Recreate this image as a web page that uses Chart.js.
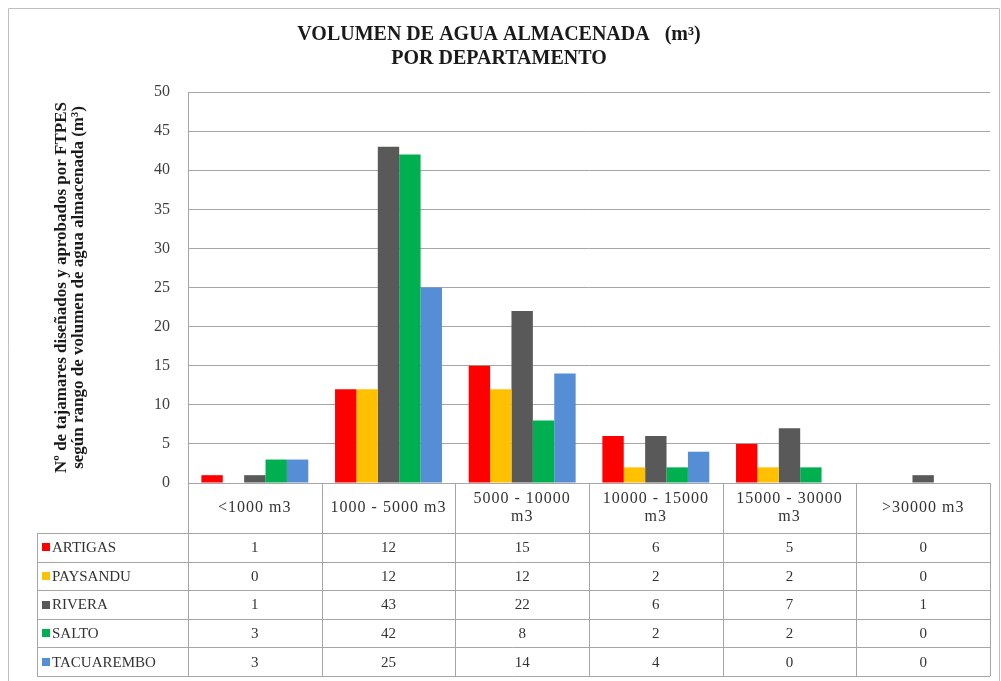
<!DOCTYPE html>
<html>
<head>
<meta charset="utf-8">
<script src="https://cdn.jsdelivr.net/npm/chart.js@4/dist/chart.umd.min.js"></script>
<style>
  html, body { margin: 0; padding: 0; background: #fff; }
  canvas { display: block; }
</style>
</head>
<body>
<canvas id="aguaChart" width="1001" height="681"></canvas>
<script>
const categories = [
    ['<1000 m3'],
    ['1000 - 5000 m3'],
    ['5000 - 10000', 'm3'],
    ['10000 - 15000', 'm3'],
    ['15000 - 30000', 'm3'],
    ['>30000 m3']
];
const departamentos = ['ARTIGAS', 'PAYSANDU', 'RIVERA', 'SALTO', 'TACUAREMBO'];
const artigas    = [1, 12, 15, 6, 5, 0];
const paysandu   = [0, 12, 12, 2, 2, 0];
const rivera     = [1, 43, 22, 6, 7, 1];
const salto      = [3, 42, 8, 2, 2, 0];
const tacuarembo = [3, 25, 14, 4, 0, 0];
const colores = ['#FF0000', '#FFC000', '#595959', '#00B050', '#558ED5'];

const serif = '"Liberation Serif", "Times New Roman", serif';
const series = [artigas, paysandu, rivera, salto, tacuarembo];

// data table under the plot, columns taken from the x scale
const tablePlugin = {
    id: 'dataTable',
    afterDraw(chart) {
        const ctx = chart.ctx;
        const area = chart.chartArea;
        const xs = chart.scales.x;
        const colW = area.width / categories.length;
        const headTop = area.bottom;
        const headBottom = headTop + 50;
        const rowH = 28.6;
        const tableLeft = 37;
        const tableBottom = headBottom + rowH * departamentos.length;

        ctx.save();
        ctx.strokeStyle = '#A6A6A6';
        ctx.lineWidth = 1;
        ctx.beginPath();
        // header top
        ctx.moveTo(area.left, headTop + 0.5);
        ctx.lineTo(area.right, headTop + 0.5);
        // row lines
        for (let r = 0; r <= departamentos.length; r++) {
            const y = Math.round(headBottom + r * rowH) + 0.5;
            ctx.moveTo(tableLeft, y);
            ctx.lineTo(area.right, y);
        }
        // column lines
        for (let c = 0; c <= categories.length; c++) {
            const x = Math.round(area.left + c * colW) + 0.5;
            ctx.moveTo(x, headTop);
            ctx.lineTo(x, tableBottom);
        }
        ctx.moveTo(tableLeft + 0.5, headBottom);
        ctx.lineTo(tableLeft + 0.5, tableBottom);
        ctx.stroke();

        ctx.fillStyle = '#333';
        ctx.font = '16px ' + serif;
        ctx.textAlign = 'center';
        ctx.textBaseline = 'middle';
        if ('letterSpacing' in ctx) ctx.letterSpacing = '1px';
        categories.forEach((lab, i) => {
            const cx = xs.getPixelForValue(i);
            const mid = (headTop + headBottom) / 2;
            const lh = 18;
            lab.forEach((t, k) => {
                ctx.fillText(t, cx, mid + (k - (lab.length - 1) / 2) * lh);
            });
        });
        if ('letterSpacing' in ctx) ctx.letterSpacing = '0px';

        departamentos.forEach((d, r) => {
            const cy = headBottom + r * rowH + rowH / 2;
            ctx.fillStyle = colores[r];
            ctx.fillRect(tableLeft + 5, Math.round(cy - 4), 8, 8);
            ctx.fillStyle = '#333';
            ctx.textAlign = 'left';
            ctx.font = '15px ' + serif;
            ctx.fillText(d, tableLeft + 15, cy + 1);
            ctx.textAlign = 'center';
            ctx.font = '15px ' + serif;
            series[r].forEach((v, i) => {
                ctx.fillText(String(v), xs.getPixelForValue(i), cy + 1);
            });
        });

        // outer frame
        ctx.strokeStyle = '#BFBFBF';
        ctx.beginPath();
        ctx.moveTo(8.5, 681);
        ctx.lineTo(8.5, 8.5);
        ctx.lineTo(999.5, 8.5);
        ctx.lineTo(999.5, 681);
        ctx.stroke();
        ctx.restore();
    }
};

new Chart(document.getElementById('aguaChart'), {
    type: 'bar',
    data: {
        labels: categories,
        datasets: departamentos.map((d, i) => ({
            label: d,
            data: series[i],
            backgroundColor: colores[i],
            categoryPercentage: 0.8,
            barPercentage: 1.0
        }))
    },
    options: {
        responsive: false,
        animation: false,
        devicePixelRatio: 1,
        layout: { padding: { left: 8, right: 11, top: 0, bottom: 198 } },
        plugins: {
            legend: { display: false },
            tooltip: { enabled: false },
            title: {
                display: true,
                text: ['VOLUMEN DE AGUA ALMACENADA   (m³)', 'POR DEPARTAMENTO'],
                color: '#1a1a1a',
                font: { family: serif, size: 20, weight: 'bold', lineHeight: 1.2 },
                padding: { top: 23, bottom: 21 }
            }
        },
        scales: {
            x: {
                grid: { display: false },
                border: { display: false },
                ticks: { display: false },
                afterFit(scale) { scale.height = 0; }
            },
            y: {
                min: 0,
                max: 50,
                ticks: {
                    stepSize: 5,
                    color: '#404040',
                    padding: 18,
                    font: { family: serif, size: 16 }
                },
                grid: { color: '#A6A6A6', drawTicks: false },
                border: { color: '#A6A6A6' },
                title: {
                    display: true,
                    text: ['Nº de tajamares diseñados y aprobados por FTPES',
                           'según rango de volumen de agua almacenada (m³)'],
                    color: '#1a1a1a',
                    font: { family: serif, size: 17, weight: 'bold', lineHeight: 1.0 },
                    padding: { top: 45, bottom: 0 }
                },
                afterFit(scale) { scale.width = 180; }
            }
        }
    },
    plugins: [tablePlugin]
});
</script>
</body>
</html>
